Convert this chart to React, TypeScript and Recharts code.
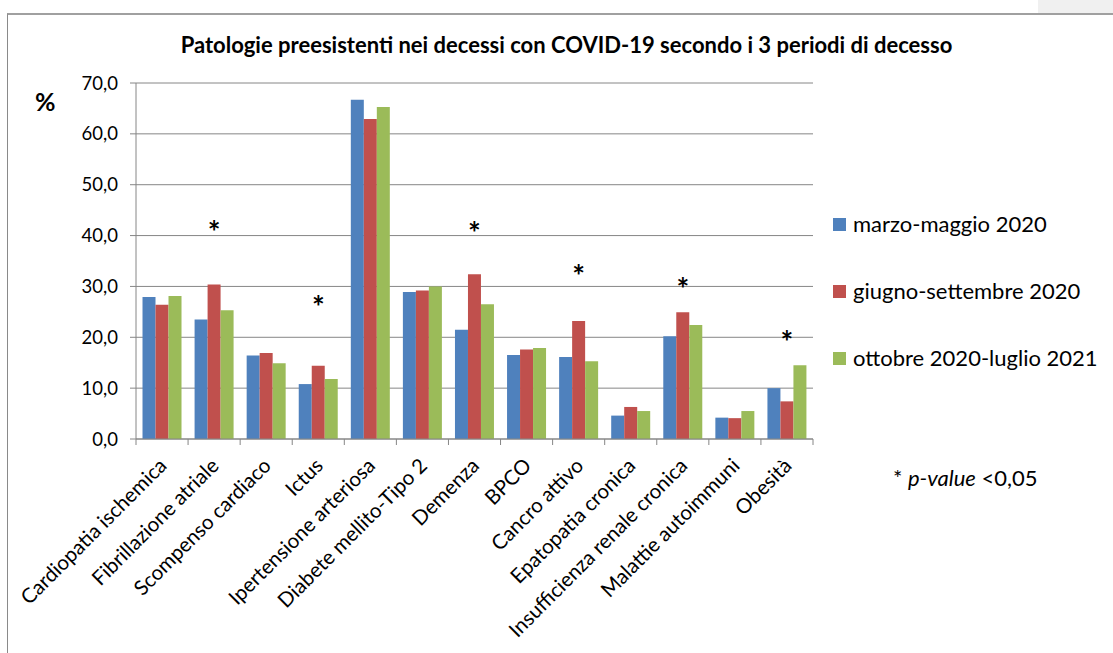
import React from 'react';
import { ComposedChart, Bar, Scatter, XAxis, YAxis, CartesianGrid } from 'recharts';

const categories = [
  'Cardiopatia ischemica',
  'Fibrillazione atriale',
  'Scompenso cardiaco',
  'Ictus',
  'Ipertensione arteriosa',
  'Diabete mellito-Tipo 2',
  'Demenza',
  'BPCO',
  'Cancro attivo',
  'Epatopatia cronica',
  'Insufficienza renale cronica',
  'Malattie autoimmuni',
  'Obesità',
];
const marzoMaggio2020 = [27.9, 23.5, 16.4, 10.8, 66.7, 28.9, 21.5, 16.5, 16.1, 4.6, 20.2, 4.2, 10.0];
const giugnoSettembre2020 = [26.4, 30.4, 16.9, 14.4, 62.9, 29.2, 32.4, 17.6, 23.2, 6.3, 24.9, 4.1, 7.4];
const ottobre2020Luglio2021 = [28.1, 25.3, 14.9, 11.8, 65.3, 30.0, 26.5, 17.9, 15.3, 5.5, 22.4, 5.5, 14.5];
// level at which the "*" significance marker is drawn (null = not significant)
const significanceMarker: (number | null)[] = [null, 42.5, null, 27.8, null, null, 42.3, null, 33.9, null, 31.3, null, 20.8];
const yTicks = [0, 10, 20, 30, 40, 50, 60, 70];

const seriesNames = ['marzo-maggio 2020', 'giugno-settembre 2020', 'ottobre 2020-luglio 2021'];
const seriesColors = ['#4F81BD', '#C0504D', '#9BBB59'];

const data = categories.map((c, i) => ({
  name: c,
  s1: marzoMaggio2020[i],
  s2: giugnoSettembre2020[i],
  s3: ottobre2020Luglio2021[i],
  sig: significanceMarker[i],
}));

const FONT = 'Lato, "Noto Sans", sans-serif';
const GRID = '#868686';
const PLOT_LEFT = 136;
const PLOT_RIGHT = 813;

const CategoryTick = (props: any) => {
  const { x, y, payload, index } = props;
  const half = payload && typeof payload.offset === 'number' && payload.offset > 0
    ? payload.offset
    : (PLOT_RIGHT - PLOT_LEFT) / categories.length / 2;
  const px = x + 6;
  const py = y + 28;
  return (
    <g>
      <line x1={x - half} x2={x - half} y1={y} y2={y + 6} stroke={GRID} strokeWidth={1} />
      {index === categories.length - 1 && (
        <line x1={x + half} x2={x + half} y1={y} y2={y + 6} stroke={GRID} strokeWidth={1} />
      )}
      <text
        x={px}
        y={py}
        textAnchor="end"
        transform={`rotate(-45, ${px}, ${py})`}
        fontFamily={FONT}
        fontSize={20.5}
        fill="#000"
      >
        {payload.value}
      </text>
    </g>
  );
};

const StarShape = (props: any) => {
  const { cx, cy, payload } = props;
  if (!payload || payload.sig == null || !isFinite(cy)) return <g />;
  return (
    <text x={cx} y={cy} dy={20} textAnchor="middle" fontFamily={FONT} fontWeight="bold" fontSize={30} fill="#000">
      *
    </text>
  );
};

export default function App() {
  return (
    <div style={{ position: 'absolute', left: 0, top: 0, width: 1113, height: 653, background: '#fff', overflow: 'hidden', fontFamily: FONT }}>
      <div style={{ position: 'absolute', left: 1038, top: 0, width: 75, height: 13, background: '#f0f0f0' }} />
      <div style={{ position: 'absolute', left: 7, top: 13, width: 1200, height: 700, borderLeft: '1px solid #8a8a8a', borderTop: '2px solid #a0a0a0', boxSizing: 'border-box' }} />
      <div style={{ position: 'absolute', left: 0, top: 0 }}>
        <ComposedChart
          width={1113}
          height={653}
          data={data}
          margin={{ top: 83, right: 300, bottom: 0, left: 0 }}
          barCategoryGap="12.5%"
          barGap={0}
        >
          <CartesianGrid vertical={false} stroke={GRID} strokeWidth={1} />
          <XAxis
            dataKey="name"
            interval={0}
            height={214}
            axisLine={{ stroke: GRID }}
            tickLine={false}
            tickSize={0}
            tickMargin={0}
            tick={<CategoryTick />}
          />
          <YAxis
            width={136}
            domain={[0, 70]}
            ticks={yTicks}
            interval={0}
            axisLine={{ stroke: GRID }}
            tickLine={{ stroke: GRID }}
            tickSize={6}
            tickMargin={12}
            tick={{ fontFamily: FONT, fontSize: 18.5, fill: '#000' }}
            tickFormatter={(v: number) => v.toFixed(1).replace('.', ',')}
          />
          <Bar dataKey="s1" name={seriesNames[0]} fill={seriesColors[0]} isAnimationActive={false} />
          <Bar dataKey="s2" name={seriesNames[1]} fill={seriesColors[1]} isAnimationActive={false} />
          <Bar dataKey="s3" name={seriesNames[2]} fill={seriesColors[2]} isAnimationActive={false} />
          <Scatter dataKey="sig" legendType="none" isAnimationActive={false} shape={<StarShape />} />
        </ComposedChart>
      </div>
      <div style={{ position: 'absolute', left: 0, width: 1113, top: 31, textAlign: 'center', paddingLeft: 20, boxSizing: 'border-box', fontWeight: 'bold', fontSize: 22, lineHeight: '28px', color: '#000', whiteSpace: 'nowrap' }}>
        Patologie preesistenti nei decessi con COVID-19 secondo i 3 periodi di decesso
      </div>
      <div style={{ position: 'absolute', left: 35, top: 86, fontWeight: 'bold', fontSize: 25, lineHeight: '30px', color: '#000' }}>%</div>
      {seriesNames.map((n, i) => (
        <div key={n} style={{ position: 'absolute', left: 833, top: 210 + i * 67, height: 28, display: 'flex', alignItems: 'center', whiteSpace: 'nowrap' }}>
          <div style={{ width: 13, height: 13, background: seriesColors[i], marginRight: 7 }} />
          <span style={{ fontSize: 22, lineHeight: '28px', color: '#000' }}>{n}</span>
        </div>
      ))}
      <div style={{ position: 'absolute', left: 893, top: 464, fontSize: 22, lineHeight: '28px', color: '#000', whiteSpace: 'nowrap' }}>
        * <i>p-value</i> &lt;0,05
      </div>
    </div>
  );
}
